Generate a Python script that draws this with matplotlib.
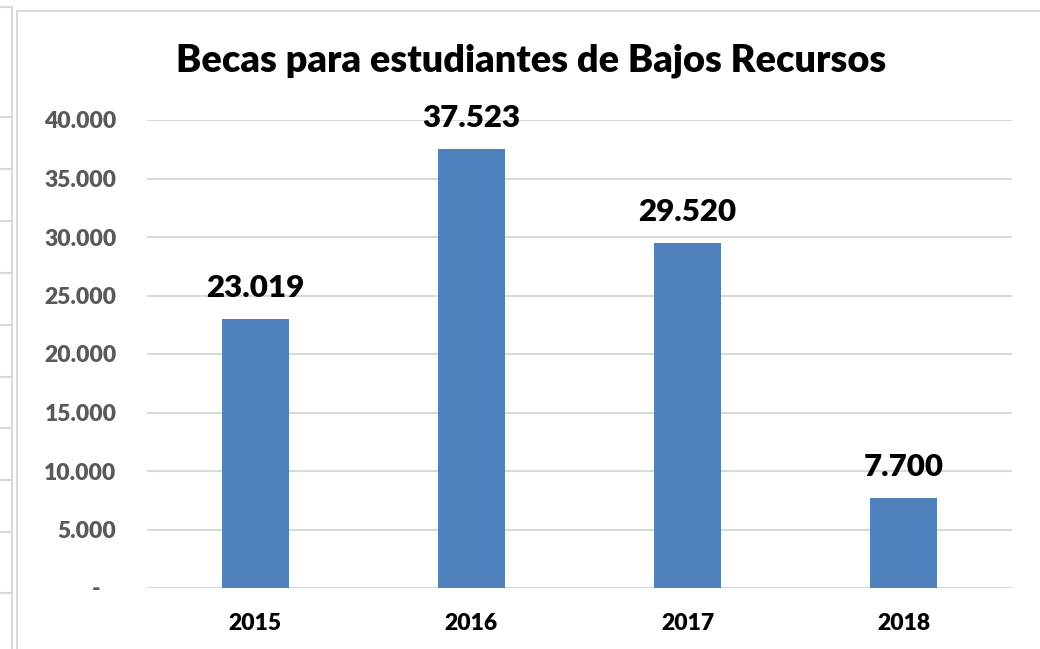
import matplotlib
matplotlib.use('Agg')
import matplotlib.pyplot as plt
from matplotlib.lines import Line2D
from matplotlib.patches import Rectangle
import numpy as np

years = ['2015', '2016', '2017', '2018']
becas = [23019, 37523, 29520, 7700]
yticks = [0, 5000, 10000, 15000, 20000, 25000, 30000, 35000, 40000]

W, H = 1040, 649
fig = plt.figure(figsize=(W / 100, H / 100), dpi=100, facecolor='white')
plt.rcParams['font.family'] = ['Lato', 'DejaVu Sans']

grid_c = '#d9d9d9'

# spreadsheet cell lines peeking out on the left
for yp in [7, 117, 169, 221, 273, 325, 377, 428, 480, 532, 593]:
    fig.add_artist(Line2D([0, 12 / W], [1 - yp / H] * 2, color=grid_c, lw=1.5))
fig.add_artist(Line2D([12 / W] * 2, [1 - 7 / H, 0], color=grid_c, lw=1.5))

# chart area border
fig.add_artist(Rectangle((17 / W, -0.1), 1.2, 1 - 11 / H + 0.1, fill=False,
                         edgecolor=grid_c, lw=1.5))

ax = fig.add_axes([147 / W, 1 - 588 / H, (1012 - 147) / W, (588 - 120) / H])
x = np.arange(len(years))
bars = ax.bar(x, becas, width=0.31, color='#4f81bd', zorder=3)

ax.set_xlim(-0.5, len(years) - 0.5)
ax.set_ylim(0, 40000)
ax.set_yticks(yticks)
ax.set_yticklabels(['-   ' if v == 0 else f'{v:,}'.replace(',', '.') for v in yticks],
                   fontsize=16.5, fontweight='heavy', color='#595959')
ax.set_xticks(x)
ax.set_xticklabels(years, fontsize=16.5, fontweight='heavy', color='black')
ax.tick_params(axis='both', length=0)
ax.tick_params(axis='y', pad=22)
ax.tick_params(axis='x', pad=18)
ax.grid(True, axis='y', color=grid_c, lw=1.5, zorder=0)
for s in ax.spines.values():
    s.set_visible(False)

for xi, v in zip(x, becas):
    ax.text(xi, v + 1450, f'{v:,}'.replace(',', '.'), ha='center', va='bottom',
            fontsize=22.5, fontweight='heavy', color='black')

fig.text(531 / W, 1 - 61 / H, 'Becas para estudiantes de Bajos Recursos',
         ha='center', va='center', fontsize=27.3, fontweight='heavy', color='black')

plt.savefig('out.png', dpi=100, facecolor='white')
plt.close()
